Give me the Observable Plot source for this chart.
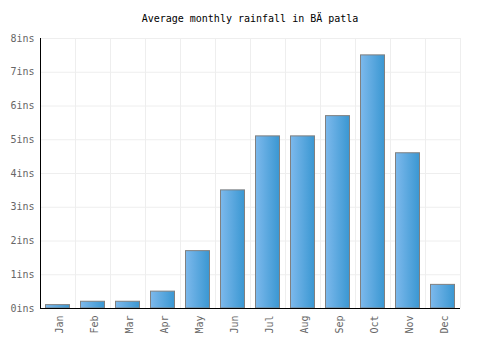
<!DOCTYPE html>
<html>
<head>
<meta charset="utf-8">
<script src="https://cdn.jsdelivr.net/npm/d3@7"></script>
<script src="https://cdn.jsdelivr.net/npm/@observablehq/plot@0.6"></script>
<style>
  body { margin: 0; background: #fff; width: 500px; }
  #title { font-family: "DejaVu Sans Mono", monospace; font-size: 10px; line-height: 12px; height: 17px; padding-top: 13px; text-align: center; color: #000; }
</style>
</head>
<body>
<div id="title">Average monthly rainfall in BÄ patla</div>
<div id="chart"></div>
<script>
const months = ["Jan","Feb","Mar","Apr","May","Jun","Jul","Aug","Sep","Oct","Nov","Dec"];
const rainfall = [0.1, 0.2, 0.2, 0.5, 1.7, 3.5, 5.1, 5.1, 5.7, 7.5, 4.6, 0.7];
const yTicks = [0, 1, 2, 3, 4, 5, 6, 7, 8];
const unit = "ins";

const data = months.map((m, i) => ({month: m, index: i, value: rainfall[i]}));

const defs = () => {
  const ns = "http://www.w3.org/2000/svg";
  const d = document.createElementNS(ns, "defs");
  const g = document.createElementNS(ns, "linearGradient");
  g.setAttribute("id", "barGrad");
  g.setAttribute("x1", "0"); g.setAttribute("x2", "1");
  g.setAttribute("y1", "0"); g.setAttribute("y2", "0");
  [["0%", "#7db9ec"], ["100%", "#3a97d2"]].forEach(([o, c]) => {
    const s = document.createElementNS(ns, "stop");
    s.setAttribute("offset", o);
    s.setAttribute("stop-color", c);
    g.appendChild(s);
  });
  d.appendChild(g);
  return d;
};

const chart = Plot.plot({
  width: 500,
  height: 320,
  marginTop: 8,
  marginBottom: 42,
  marginLeft: 40,
  marginRight: 40,
  style: {fontFamily: "DejaVu Sans Mono, monospace", fontSize: "10px", background: "#fff"},
  x: {type: "linear", domain: [0, months.length], axis: null},
  y: {domain: [0, 8], axis: null},
  marks: [
    defs,
    Plot.ruleY(yTicks, {y: d => d, stroke: "#eeeeee", strokeWidth: 1}),
    Plot.ruleX(d3.range(months.length + 1), {x: d => d, stroke: "#eeeeee", strokeWidth: 1}),
    Plot.rectY(data, {
      x1: d => d.index,
      x2: d => d.index + 1,
      y1: 0,
      y2: "value",
      insetLeft: 5.5,
      insetRight: 5.5,
      fill: "url(#barGrad)",
      stroke: "#808080",
      strokeWidth: 1
    }),
    Plot.axisY({
      ticks: yTicks,
      tickFormat: d => d + unit,
      tickSize: 0,
      tickPadding: 6,
      fill: "#666",
      fontSize: 10,
      label: null
    }),
    Plot.axisX({
      ticks: months.map((m, i) => i + 0.5),
      tickFormat: d => months[Math.floor(d)],
      tickSize: 0,
      tickPadding: 7,
      tickRotate: -90,
      dx: 1.5,
      fill: "#666",
      fontSize: 10,
      label: null
    }),
    Plot.ruleX([0], {stroke: "#000", strokeWidth: 1}),
    Plot.ruleY([0], {stroke: "#000", strokeWidth: 1})
  ]
});
document.getElementById("chart").appendChild(chart);
</script>
</body>
</html>
